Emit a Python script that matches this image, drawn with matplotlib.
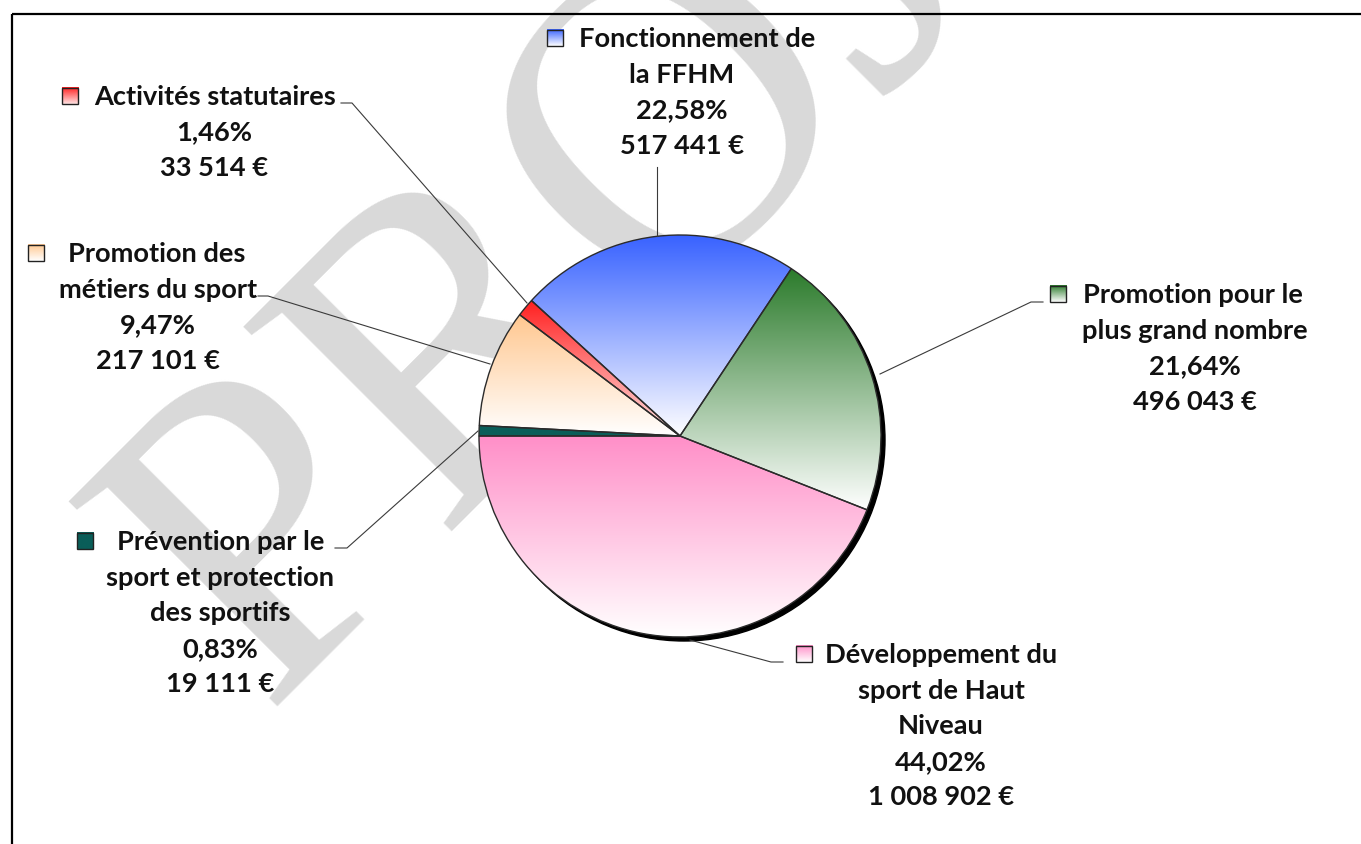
import matplotlib
matplotlib.use("Agg")
import matplotlib.pyplot as plt
import numpy as np
from matplotlib.colors import to_rgb
from matplotlib.patches import Rectangle, Circle

# ---------------- data ----------------
categories = [
    "Développement du sport de Haut Niveau",
    "Promotion pour le plus grand nombre",
    "Fonctionnement de la FFHM",
    "Activités statutaires",
    "Promotion des métiers du sport",
    "Prévention par le sport et protection des sportifs",
]
label_lines = [
    ["Développement du", "sport de Haut", "Niveau"],
    ["Promotion pour le", "plus grand nombre"],
    ["Fonctionnement de", "la FFHM"],
    ["Activités statutaires"],
    ["Promotion des", "métiers du sport"],
    ["Prévention par le", "sport et protection", "des sportifs"],
]
amounts = [1008902, 496043, 517441, 33514, 217101, 19111]
percent_text = ["44,02%", "21,64%", "22,58%", "1,46%", "9,47%", "0,83%"]
amount_text = ["1 008 902 €", "496 043 €", "517 441 €", "33 514 €", "217 101 €", "19 111 €"]
top_colors = ["#ff8fc8", "#2b7b2b", "#3862ff", "#ff1f1f", "#ffc78f", "#0a5e59"]
bottom_colors = ["#ffffff", "#ffffff", "#ffffff", "#ffe4e4", "#ffffff", "#0a5e59"]

# ---------------- layout (pixels, y from top) ----------------
W, H = 1361, 845
PIE_CX, PIE_CY, PIE_R = 680, 437, 201
key_x = [796, 1050, 547, 62, 28, 77]
text_x = [825, 1083, 579, 94, 68, 117]
label_cx = [941, 1195, 682, 214, 158, 220]
label_base = [663, 303, 47, 105, 262, 550]
LINE_STEP = 35.6
KEY = 16.5
leaders = [
    [(690, 641), (771, 663), (783, 663)],
    [(880, 375), (1031, 303), (1043, 303)],
    [(657, 237), (657, 168)],
    [(527, 304), (352, 104), (341, 104)],
    [(490, 365), (268, 297), (258, 297)],
    [(478, 432), (347, 549), (335, 549)],
]


def Y(y):
    return H - y


plt.rcParams['font.family'] = ['Lato', 'DejaVu Sans']
fig = plt.figure(figsize=(W / 100, H / 100), dpi=100)
ax = fig.add_axes([0, 0, 1, 1])

# fit font size to reference width of "Fonctionnement de"
renderer = fig.canvas.get_renderer()
tmp = ax.text(0, 0, "Fonctionnement de", fontsize=18, fontweight='bold')
wpx = tmp.get_window_extent(renderer).width
FS = 18 * 237 / wpx
tmp.remove()

# watermark
ax.text(262, Y(708), "PROJET", rotation=45, rotation_mode='anchor', ha='left',
        va='baseline', fontsize=321, family='Liberation Serif', color='#d9d9d9',
        zorder=1, clip_on=True)

# pie
wedges, _ = ax.pie(amounts, startangle=180, counterclock=True,
                   center=(PIE_CX, Y(PIE_CY)), radius=PIE_R, frame=False,
                   wedgeprops=dict(facecolor='none', edgecolor='#2b2b2b', linewidth=1.0))
for w in wedges:
    w.set_zorder(4)

ax.add_patch(Circle((PIE_CX + 4, Y(PIE_CY) - 4), PIE_R, color='black', zorder=2.5))


def grad(c0, c1, n=256):
    t = np.linspace(0, 1, n)[:, None]
    rgb = (1 - t) * np.array(to_rgb(c0)) + t * np.array(to_rgb(c1))
    return rgb[:, None, :]


for w, c0, c1 in zip(wedges, top_colors, bottom_colors):
    ext = w.get_path().get_extents()
    im = ax.imshow(grad(c0, c1), extent=(ext.x0, ext.x1, ext.y0, ext.y1), origin='upper',
                   aspect='auto', zorder=3, interpolation='bilinear')
    im.set_clip_path(w)

# leader lines
for pts in leaders:
    xs = [p[0] for p in pts]
    ys = [Y(p[1]) for p in pts]
    ax.plot(xs, ys, color='#3a3a3a', linewidth=0.8, zorder=5)

# labels
for i in range(len(amounts)):
    lines = label_lines[i] + [percent_text[i], amount_text[i]]
    for j, s in enumerate(lines):
        yb = Y(label_base[i] + j * LINE_STEP)
        if j == 0:
            ax.text(text_x[i], yb, s, ha='left', va='baseline', fontsize=FS,
                    fontweight='bold', color='#111111', zorder=6)
        else:
            ax.text(label_cx[i], yb, s, ha='center', va='baseline', fontsize=FS,
                    fontweight='bold', color='#111111', zorder=6)
    kb = label_base[i]
    ax.imshow(grad(top_colors[i], bottom_colors[i]),
              extent=(key_x[i], key_x[i] + KEY, Y(kb), Y(kb - KEY)), origin='upper',
              aspect='auto', zorder=6, interpolation='bilinear')
    ax.add_patch(Rectangle((key_x[i], Y(kb)), KEY, KEY, facecolor='none',
                           edgecolor='#222222', linewidth=1.0, zorder=7))

# frame
ax.plot([12, W], [Y(15), Y(15)], color='black', linewidth=1.6, zorder=8, solid_capstyle='butt')
ax.plot([12, 12], [Y(15), 0], color='black', linewidth=1.6, zorder=8, solid_capstyle='butt')

ax.set_xlim(0, W)
ax.set_ylim(0, H)
ax.set_aspect('auto')
ax.axis('off')

fig.savefig("out.png", dpi=100)
